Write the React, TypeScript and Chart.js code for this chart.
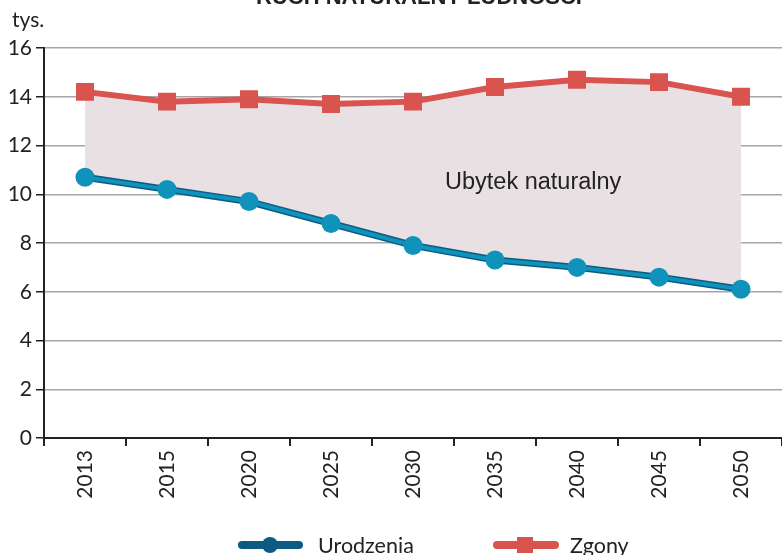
import React, { useEffect, useRef } from "react";
import { Chart, registerables } from "chart.js";

Chart.register(...registerables);

const title = "RUCH NATURALNY LUDNOŚCI";
const unitLabel = "tys.";
const areaLabel = "Ubytek naturalny";
const years = ["2013", "2015", "2020", "2025", "2030", "2035", "2040", "2045", "2050"];
const births = [10.7, 10.2, 9.7, 8.8, 7.9, 7.3, 7.0, 6.6, 6.1];
const deaths = [14.2, 13.8, 13.9, 13.7, 13.8, 14.4, 14.7, 14.6, 14.0];
const birthsName = "Urodzenia";
const deathsName = "Zgony";

const FONT = "Lato, 'Open Sans', sans-serif";
const TEXT = "#222222";
const RED = "#d9534f";
const BLUE_DARK = "#0d5a82";
const BLUE_LIGHT = "#0f93ba";
const FILL = "#e8e0e2";

const overlay = {
  id: "overlay",
  afterDraw(chart: any) {
    const ctx = chart.ctx as CanvasRenderingContext2D;
    ctx.save();
    ctx.fillStyle = TEXT;
    ctx.font = "bold 22px 'Liberation Sans', Arial, sans-serif";
    ctx.textAlign = "center";
    ctx.textBaseline = "alphabetic";
    ctx.fillText(title, 419, 4);
    ctx.font = `21px ${FONT}`;
    ctx.textAlign = "left";
    ctx.fillText(unitLabel, 12, 27);
    ctx.font = `23.5px 'Liberation Sans', Arial, sans-serif`;
    ctx.fillText(areaLabel, 445, 189);
    const ly = 545;
    ctx.lineCap = "round";
    ctx.lineWidth = 8;
    ctx.strokeStyle = BLUE_DARK;
    ctx.beginPath();
    ctx.moveTo(242, ly);
    ctx.lineTo(299, ly);
    ctx.stroke();
    ctx.fillStyle = BLUE_DARK;
    ctx.beginPath();
    ctx.arc(270, ly, 8, 0, Math.PI * 2);
    ctx.fill();
    ctx.strokeStyle = RED;
    ctx.beginPath();
    ctx.moveTo(497, ly);
    ctx.lineTo(555, ly);
    ctx.stroke();
    ctx.fillStyle = RED;
    ctx.fillRect(517, ly - 8, 16, 16);
    ctx.fillStyle = TEXT;
    ctx.font = `21.5px ${FONT}`;
    ctx.textBaseline = "middle";
    ctx.fillText(birthsName, 318, ly + 1);
    ctx.fillText(deathsName, 570, ly + 1);
    ctx.restore();
  },
};

export default function App() {
  const ref = useRef<HTMLCanvasElement>(null);
  useEffect(() => {
    if (!ref.current) return;
    const chart = new Chart(ref.current, {
      type: "line",
      data: {
        labels: years,
        datasets: [
          {
            label: deathsName,
            data: deaths,
            borderColor: RED,
            borderWidth: 6,
            backgroundColor: FILL,
            fill: 1,
            pointStyle: "rect",
            pointRadius: 12.7,
            pointBackgroundColor: RED,
            pointBorderWidth: 0,
            tension: 0,
            order: 2,
          },
          {
            label: birthsName,
            data: births,
            borderColor: BLUE_DARK,
            borderWidth: 7,
            pointRadius: 0,
            fill: false,
            tension: 0,
            order: 1,
          },
          {
            label: birthsName + "_inner",
            data: births,
            borderColor: BLUE_LIGHT,
            borderWidth: 4,
            pointRadius: 9.5,
            pointBackgroundColor: BLUE_LIGHT,
            pointBorderWidth: 0,
            fill: false,
            tension: 0,
            order: 0,
          },
        ],
      },
      options: {
        responsive: false,
        animation: false,
        devicePixelRatio: 1,
        layout: { autoPadding: false, padding: { top: 48, left: 0, right: 0, bottom: 0 } },
        plugins: {
          legend: { display: false },
          tooltip: { enabled: false },
          title: { display: false },
        },
        scales: {
          x: {
            offset: true,
            afterFit: (s: any) => {
              s.height = 117;
            },
            border: { color: TEXT, width: 2 },
            grid: {
              offset: true,
              drawOnChartArea: false,
              tickLength: 8,
              tickColor: TEXT,
              lineWidth: 2,
            },
            ticks: {
              minRotation: 90,
              maxRotation: 90,
              padding: 4,
              color: TEXT,
              font: { family: FONT, size: 21 },
            },
          },
          y: {
            min: 0,
            max: 16,
            afterFit: (s: any) => {
              s.width = 44;
            },
            border: { color: TEXT, width: 2 },
            grid: {
              color: "#a6a6a6",
              lineWidth: 1.5,
              tickLength: 8,
              tickColor: TEXT,
            },
            ticks: {
              stepSize: 2,
              padding: 4,
              color: TEXT,
              font: { family: FONT, size: 21 },
            },
          },
        },
      },
      plugins: [overlay],
    });
    return () => chart.destroy();
  }, []);
  return (
    <div style={{ position: "fixed", left: 0, top: 0, width: 782, height: 555, background: "#fff" }}>
      <canvas ref={ref} width={782} height={555} style={{ display: "block" }} />
    </div>
  );
}
